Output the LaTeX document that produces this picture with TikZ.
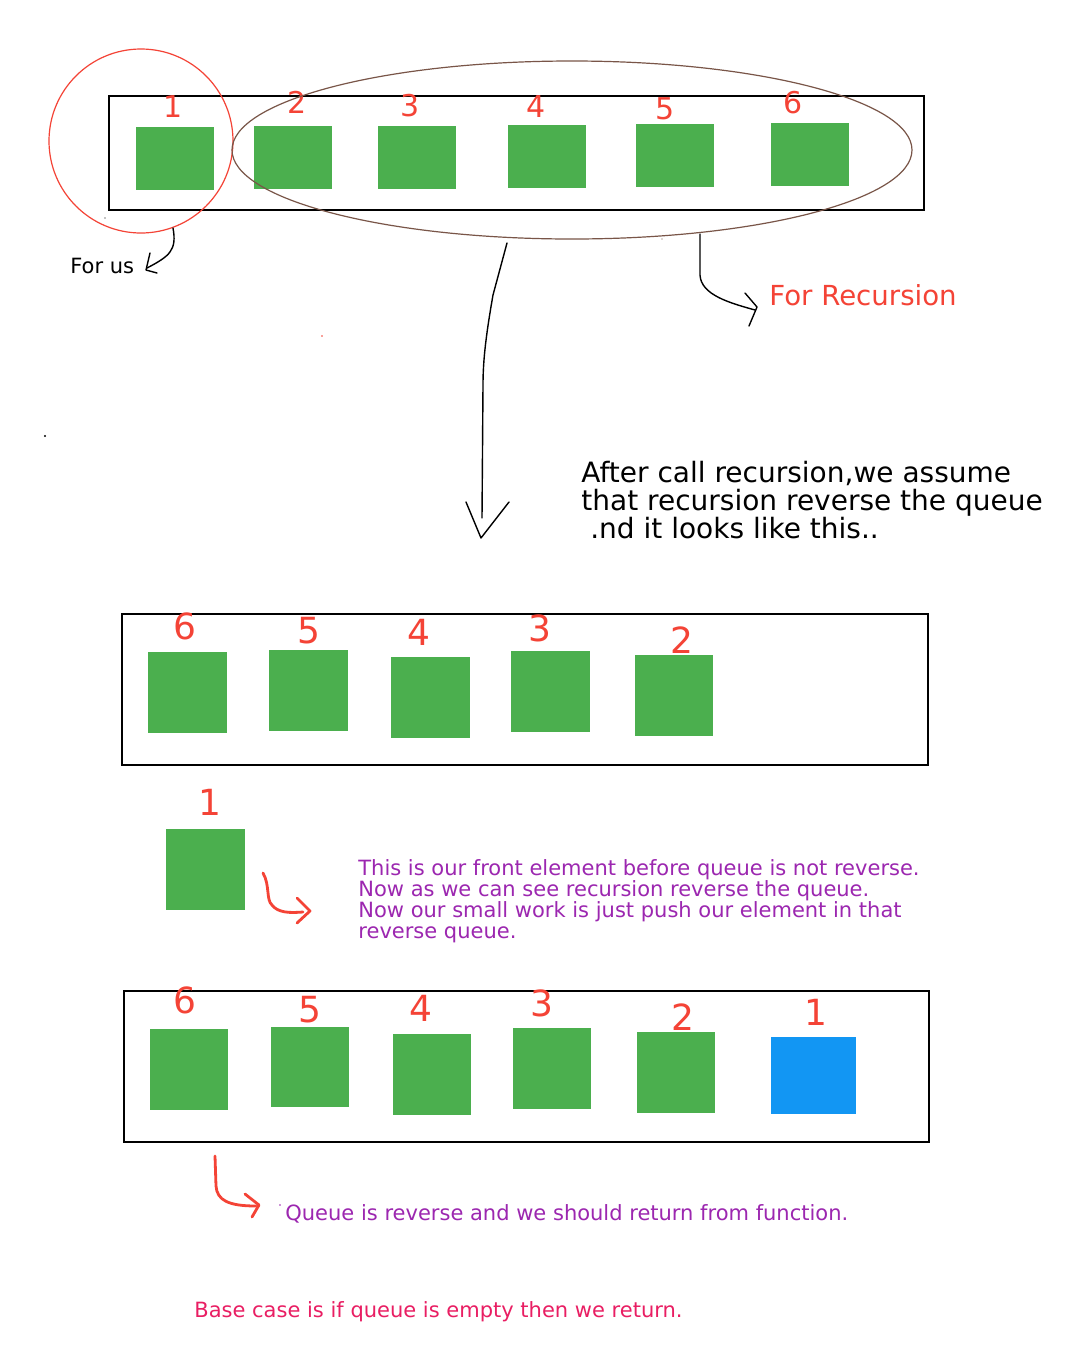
\documentclass[tikz,border=0pt]{standalone}
\usepackage{fontspec}
\setmainfont{DejaVu Sans}
\usetikzlibrary{fit,shapes.geometric}
\definecolor{qgreen}{RGB}{75,175,78}
\definecolor{qblue}{RGB}{18,150,243}
\definecolor{qred}{RGB}{244,67,54}
\definecolor{qbrown}{RGB}{121,85,72}
\definecolor{qpurple}{RGB}{156,39,176}
\definecolor{qpink}{RGB}{233,30,99}
\begin{document}
\begin{tikzpicture}[x=0.5pt,y=-0.5pt,
  gbox/.style={fill=qgreen, draw=none, inner sep=0pt},
  bbox/.style={fill=qblue, draw=none, inner sep=0pt},
  qrect/.style={draw=black, line width=0.75pt, inner sep=0pt},
  digs/.style={text=qred, font=\fontsize{15}{15}\selectfont, inner sep=0pt},
  digl/.style={text=qred, font=\fontsize{18}{18}\selectfont, inner sep=0pt},
  pen/.style={draw=black, line width=0.7pt, line cap=round, line join=round},
  redpen/.style={draw=qred, line width=1.4pt, line cap=round, line join=round},
  ptext/.style={text=qpurple, font=\fontsize{10.5}{10.6}\selectfont, inner sep=0pt, align=left},
]
\useasboundingbox[fill=white] (0,0) rectangle (1080,1372);

% ---------- top queue ----------
\node[qrect, fit={(109,96) (924,210)}] (q1) {};
\node[gbox, fit={(136,127) (214,190)}] (a1) {};
\node[gbox, fit={(254,126) (332,189)}] (a2) {};
\node[gbox, fit={(378,126) (456,189)}] (a3) {};
\node[gbox, fit={(508,125) (586,188)}] (a4) {};
\node[gbox, fit={(636,124) (714,187)}] (a5) {};
\node[gbox, fit={(771,123) (849,186)}] (a6) {};
\node[digs] (la1) at (173,107) {1};
\node[digs] (la2) at (297,102) {2};
\node[digs] (la3) at (410,106) {3};
\node[digs] (la4) at (536,107) {4};
\node[digs] (la5) at (665,109) {5};
\node[digs] (la6) at (793,103) {6};

\node[circle, draw=qred, line width=0.6pt, minimum size=92pt, inner sep=0pt] (c) at (141,141) {};
\node[ellipse, draw=qbrown, line width=0.6pt, minimum width=340pt, minimum height=89pt, inner sep=0pt] (ell) at (572,150) {};

% For us
\node[font=\fontsize{10.5}{10.5}\selectfont, anchor=west, inner sep=0pt] (forus) at (70,266) {For us};
\coordinate (fu1) at (173,228);
\coordinate (fu2) at (147,268);
\draw[pen] (fu1) .. controls (177,250) and (170,256) .. (fu2);
\draw[pen] (150,253) -- (146,270) -- (157,273);

% For Recursion
\node[text=qred, font=\fontsize{13.8}{13.8}\selectfont, anchor=west, inner sep=0pt] (forrec) at (769,295) {For Recursion};
\coordinate (fr1) at (700,234);
\coordinate (fr2) at (755,310);
\draw[pen] (fr1) -- (700,275) .. controls (701,295) and (730,303) .. (fr2);
\draw[pen] (745,293) -- (757,307) -- (749,326);

% long arrow
\coordinate (la) at (507,243);
\coordinate (lb) at (482,518);
\draw[pen] (la) -- (493,295) .. controls (486,335) and (483,360) .. (483,385) -- (lb);
\draw[pen] (466,502) -- (481,538) -- (509,502);

\node[font=\fontsize{14}{14}\selectfont, anchor=north west, inner sep=0pt, align=left] (after) at (581,461)
  {After call recursion,we assume\\that recursion reverse the queue\\\ .nd it looks like this..};

% stray dots
\fill (45,436) circle (1.2);
\fill[qred] (322,336) circle (0.8);
\fill (105,218) circle (0.6);
\fill[qbrown] (662,239) circle (0.6);

% ---------- middle queue ----------
\node[qrect, fit={(122,614) (928,765)}] (q2) {};
\node[gbox, fit={(148,652) (227,733)}] (b6) {};
\node[gbox, fit={(269,650) (348,731)}] (b5) {};
\node[gbox, fit={(391,657) (470,738)}] (b4) {};
\node[gbox, fit={(511,651) (590,732)}] (b3) {};
\node[gbox, fit={(635,655) (713,736)}] (b2) {};
\node[digl] (lb6) at (185,626) {6};
\node[digl] (lb5) at (309,631) {5};
\node[digl] (lb4) at (419,632) {4};
\node[digl] (lb3) at (540,628) {3};
\node[digl] (lb2) at (682,640) {2};

\node[gbox, fit={(166,829) (245,910)}] (front) {};
\node[digl] (lf) at (210,802) {1};
\coordinate (h1) at (263,873);
\coordinate (h2) at (303,912);
\draw[redpen] (h1) .. controls (270,885) and (266,900) .. (272,905) .. controls (278,913) and (290,913) .. (h2);
\draw[redpen] (297,898) -- (310,911) -- (297,923);

\node[ptext, anchor=north west] (expl) at (358,859)
  {This is our front element before queue is not reverse.\\Now as we can see recursion reverse the queue.\\Now our small work is just push our element in that\\reverse queue.};

% ---------- bottom queue ----------
\node[qrect, fit={(124,991) (929,1142)}] (q3) {};
\node[gbox, fit={(150,1029) (228,1110)}] (c6) {};
\node[gbox, fit={(271,1027) (349,1107)}] (c5) {};
\node[gbox, fit={(393,1034) (471,1115)}] (c4) {};
\node[gbox, fit={(513,1028) (591,1109)}] (c3) {};
\node[gbox, fit={(637,1032) (715,1113)}] (c2) {};
\node[bbox, fit={(771,1037) (856,1114)}] (c1) {};
\node[digl] (lc6) at (185,1000) {6};
\node[digl] (lc5) at (310,1010) {5};
\node[digl] (lc4) at (421,1008) {4};
\node[digl] (lc3) at (542,1003) {3};
\node[digl] (lc2) at (683,1017) {2};
\node[digl] (lc1) at (816,1012) {1};

\coordinate (k1) at (215,1156);
\coordinate (k2) at (256,1206);
\draw[redpen] (k1) -- (216,1186) .. controls (217,1200) and (228,1206) .. (k2);
\draw[redpen] (245,1194) -- (259,1205) -- (252,1217);
\fill[qpurple] (280,1205) circle (0.8);
\node[ptext, anchor=west] (ret) at (285,1214) {Queue is reverse and we should return from function.};

\node[text=qpink, font=\fontsize{10.5}{10.5}\selectfont, anchor=west, inner sep=0pt] (base) at (194,1312) {Base case is if queue is empty then we return.};
\end{tikzpicture}
\end{document}
